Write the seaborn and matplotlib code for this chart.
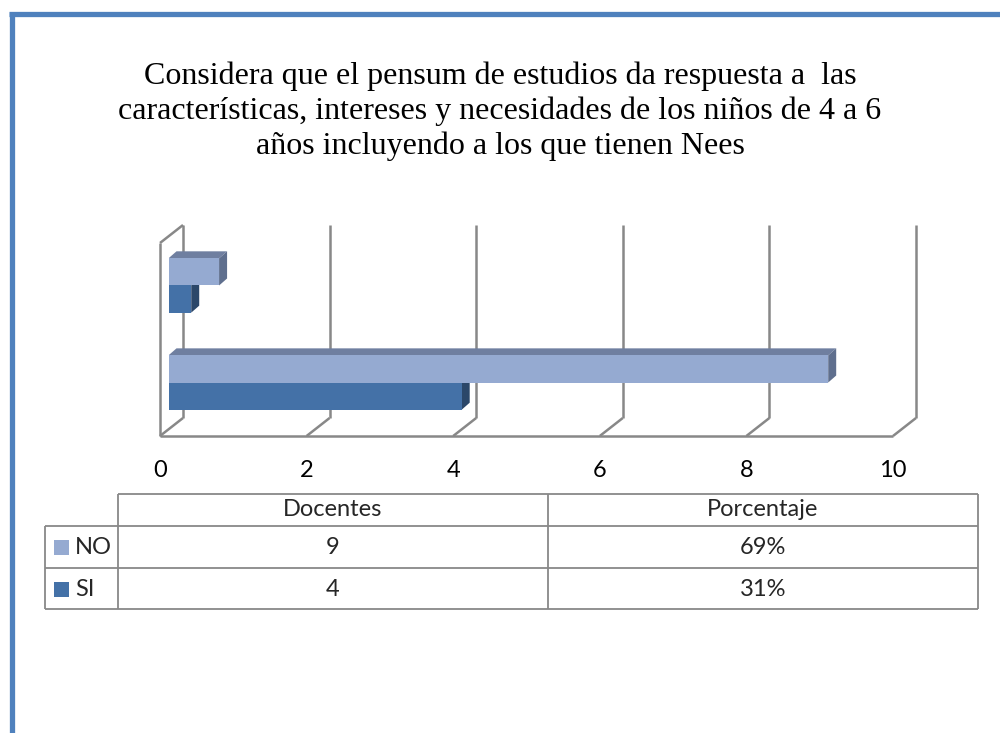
import pandas as pd
import seaborn as sns
from matplotlib import pyplot as plt
from matplotlib.colors import to_hex
from matplotlib.patches import Polygon, Rectangle

sns.set_style("white")
plt.rcParams['font.family'] = ['Lato', 'DejaVu Sans']

title_lines = [
    "Considera que el pensum de estudios da respuesta a  las",
    "características, intereses y necesidades de los niños de 4 a 6",
    "años incluyendo a los que tienen Nees",
]
categories = ["Docentes", "Porcentaje"]
series = ["NO", "SI"]
no_values = [9, 0.69]
si_values = [4, 0.31]
table_no = ["9", "69%"]
table_si = ["4", "31%"]
x_ticks = [0, 2, 4, 6, 8, 10]

colors = {"NO": "#95aad1", "SI": "#4471a7"}
top_colors = {"NO": "#6f7fa0", "SI": "#33557e"}
side_colors = {"NO": "#5f6f8e", "SI": "#2b4769"}
grid_color = "#888888"

df = pd.DataFrame({
    "categoria": categories * 2,
    "serie": ["NO"] * 2 + ["SI"] * 2,
    "valor": no_values + si_values,
})

fig = plt.figure(figsize=(10, 7.33), dpi=100)
ax = fig.add_axes([0.1685, 1 - 429 / 733, 0.733, 193 / 733])
sns.barplot(data=df, x="valor", y="categoria", hue="serie",
            order=["Porcentaje", "Docentes"], hue_order=series,
            palette=colors, saturation=1, orient="h", width=0.56,
            linewidth=0, legend=False, ax=ax, zorder=3)
ybot, ytop = 1.479, -0.510
ax.set_xlim(0, 10)
ax.set_ylim(ybot, ytop)
ax.axis("off")

# pixel -> data units
ux = 10 / 733
uy = (ybot - ytop) / 193

# 3d sides of the bars
ddx, ddy = 8 * ux, -7 * uy
for bar in ax.patches:
    x0, y0, w, h = bar.get_x(), bar.get_y(), bar.get_width(), bar.get_height()
    key = "NO" if to_hex(bar.get_facecolor()) == colors["NO"] else "SI"
    top = [(x0, y0), (x0 + w, y0), (x0 + w + ddx, y0 + ddy), (x0 + ddx, y0 + ddy)]
    side = [(x0 + w, y0), (x0 + w + ddx, y0 + ddy),
            (x0 + w + ddx, y0 + h + ddy), (x0 + w, y0 + h)]
    ax.add_patch(Polygon(top, closed=True, color=top_colors[key], lw=0, zorder=2))
    ax.add_patch(Polygon(side, closed=True, color=side_colors[key], lw=0, zorder=2))

# walls: front plane and back plane offsets
fx, fy = -8.5 * ux, 7 * uy
bx, by = 14.5 * ux, -11 * uy
kw = dict(color=grid_color, lw=1.8, clip_on=False, zorder=1, solid_capstyle="butt")
ax.plot([0 + fx, 10 + fx], [ybot + fy] * 2, **kw)
ax.plot([0 + fx] * 2, [ybot + fy, ytop + fy], **kw)
ax.plot([0 + fx, 0 + bx], [ytop + fy, ytop + by], **kw)
for v in x_ticks:
    ax.plot([v + bx] * 2, [ybot + by, ytop + by], **kw)
    ax.plot([v + fx, v + bx], [ybot + fy, ybot + by], **kw)
    ax.text(v + fx, ybot + 42 * uy, str(v), ha="center", va="center",
            fontsize=17, color="black")

# overlay in pixel coordinates for title, table and frame
ov = fig.add_axes([0, 0, 1, 1])
ov.set_xlim(0, 1000)
ov.set_ylim(733, 0)
ov.axis("off")

for i, line in enumerate(title_lines):
    ov.text(500, 76 + 35 * i, line, ha="center", va="center", fontsize=23,
            family=["Liberation Serif", "DejaVu Serif"], color="black")

# frame
frame = "#4f81bd"
ov.plot([9, 1000], [14, 14], color=frame, lw=3.8, solid_capstyle="butt")
ov.plot([12, 12], [12, 733], color=frame, lw=3.8, solid_capstyle="butt")

# data table
tk = dict(color=grid_color, lw=1.3, solid_capstyle="butt")
col_x = [45, 118, 548, 978]
row_y = [494, 526, 568, 609]
ov.plot([118, 978], [row_y[0]] * 2, **tk)
for y in row_y[1:]:
    ov.plot([45, 978], [y, y], **tk)
ov.plot([45, 45], [row_y[1], row_y[-1]], **tk)
for x in col_x[1:]:
    ov.plot([x, x], [row_y[0], row_y[-1]], **tk)

col_centers = [333, 763]
for c, name in zip(col_centers, categories):
    ov.text(c, 510, name, ha="center", va="center", fontsize=17)

for row, (label, vals) in enumerate(zip(series, [table_no, table_si])):
    yc = 547.5 + 41.5 * row
    ov.add_patch(Rectangle((54, yc - 7.5), 15, 15, color=colors[label], lw=0))
    ov.text(75, yc, label, ha="left", va="center", fontsize=17)
    for c, v in zip(col_centers, vals):
        ov.text(c, yc, v, ha="center", va="center", fontsize=17)

fig.savefig("out.png", dpi=100)
